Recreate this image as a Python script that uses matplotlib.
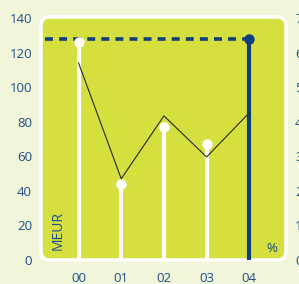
import matplotlib
matplotlib.use("Agg")
import matplotlib.pyplot as plt
from matplotlib.patches import FancyBboxPatch

years = ["00", "01", "02", "03", "04"]
meur = [126, 44, 77, 67, 128]
pct = [5.7, 2.35, 4.17, 2.98, 4.26]
left_ticks = [0, 20, 40, 60, 80, 100, 120, 140]
right_ticks = [0, 1, 2, 3, 4, 5, 6, 7]

BG = "#F1F5D9"
GREEN = "#D5DF3D"
NAVY = "#0E3F7C"
TXT = "#1E4F8A"

plt.rcParams['font.family'] = ['Open Sans', 'DejaVu Sans']

W, H = 299, 284
fig = plt.figure(figsize=(W/100, H/100), dpi=100, facecolor=BG)
l, r, t, b = 41, 286, 17, 260
ax = fig.add_axes([l/W, (H-b)/H, (r-l)/W, (b-t)/H])
ax.set_facecolor("none")
for s in ax.spines.values():
    s.set_visible(False)

box = FancyBboxPatch((0, 0), 1, 1, boxstyle="round,pad=0,rounding_size=0.035",
                     transform=ax.transAxes, facecolor=GREEN, edgecolor="white",
                     linewidth=2.6, clip_on=False, zorder=0, mutation_aspect=1.0)
ax.add_patch(box)

x = list(range(len(years)))
ymax = 140.6
ax.set_xlim(-0.88, 4.86)
ax.set_ylim(0, ymax)

# white lollipops for 00-03
for i in range(4):
    ax.plot([x[i], x[i]], [0, meur[i]], color="white", lw=3.0, solid_capstyle="butt", zorder=2)
    ax.plot(x[i], meur[i], "o", color="white", ms=6.5, mec="white", zorder=3)

# dashed line for last value
ax.plot([-0.79, x[4]], [meur[4], meur[4]], color=NAVY, lw=2.6,
        linestyle=(0, (2.2, 1.7)), dash_capstyle="butt", zorder=2)
ax.plot([x[4], x[4]], [0, meur[4]], color=NAVY, lw=3.0, solid_capstyle="butt", zorder=3)
ax.plot(x[4], meur[4], "o", color=NAVY, ms=6.5, zorder=4)

ax.set_yticks(left_ticks)
ax.set_xticks(x)
ax.set_xticklabels(years)
ax.tick_params(axis="both", length=0, colors=TXT, labelsize=9.5)
ax.tick_params(axis="y", pad=6.5)
ax.tick_params(axis="x", pad=9)

ax2 = ax.twinx()
for s in ax2.spines.values():
    s.set_visible(False)
ax2.set_ylim(0, ymax / 20)
ax2.set_yticks(right_ticks)
ax2.tick_params(axis="y", length=0, colors=TXT, labelsize=9.5, pad=6.5)
ax2.plot(x, pct, color="#2a2a2a", lw=0.8, zorder=5)

ax.text(-0.49, 5.5, "MEUR", rotation=90, color=TXT, fontsize=10, ha="center", va="bottom")
ax.text(4.52, 3.0, "%", color=TXT, fontsize=9.5, ha="center", va="bottom")

fig.savefig("out.png", dpi=100, facecolor=BG)
